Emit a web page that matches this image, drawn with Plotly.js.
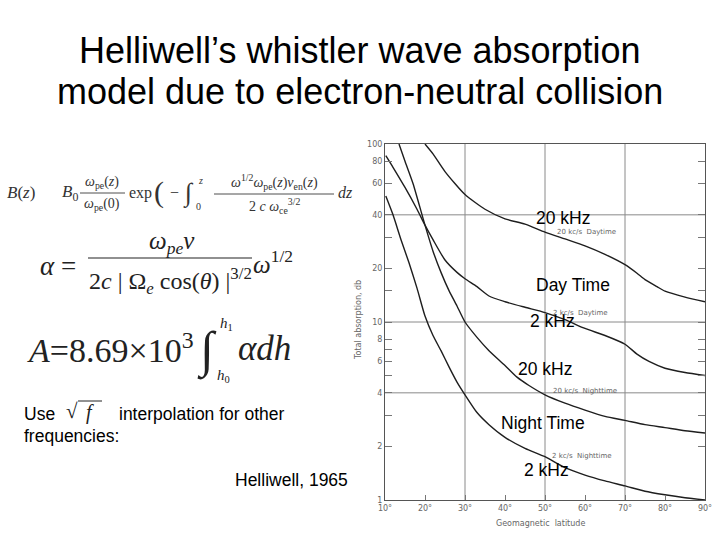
<!DOCTYPE html>
<html>
<head>
<meta charset="utf-8">
<script src="https://cdn.plot.ly/plotly-3.0.1.min.js"></script>
<style>html,body{margin:0;padding:0;background:#fff;}#chart{width:720px;height:540px;}</style>
</head>
<body>
<div id="chart"></div>
<script>
// ---- data (geomagnetic latitude in degrees, total absorption in dB) ----
const lat20Day = [20, 22, 25, 30, 35, 40, 45, 50, 55, 60, 65, 70, 73, 75, 78, 80, 85, 90];
const abs20Day = [100, 88, 70, 52, 43, 38, 35.5, 32, 29.3, 26.8, 24, 21, 18.8, 17.3, 15.8, 14.9, 13.8, 13];

const lat2Day = [10.2, 12, 15, 18, 20, 22, 25, 28, 30, 33, 36, 40, 45, 50, 55, 60, 65, 70, 73, 76, 80, 85, 90];
const abs2Day = [86, 74, 57, 43, 35, 29, 22.3, 19, 17.5, 15.8, 14, 13, 12.1, 11.3, 10.3, 9.2, 8.4, 7.5, 6.6, 6, 5.5, 5.2, 5.0];

const lat20Night = [13.5, 15, 17, 20, 22, 24, 26, 28, 30, 33, 36, 40, 43, 46, 50, 55, 60, 65, 70, 75, 80, 85, 90];
const abs20Night = [100, 80, 60, 35, 25, 19, 15, 12.3, 10, 8.2, 6.9, 5.7, 4.9, 4.4, 3.9, 3.5, 3.2, 2.95, 2.8, 2.65, 2.55, 2.45, 2.38];

const lat2Night = [10.2, 12, 14, 16, 18, 20, 22, 24, 26, 28, 30, 33, 36, 40, 45, 50, 55, 60, 65, 70, 75, 80, 85, 90];
const abs2Night = [51, 40, 29, 21.5, 15.5, 10.8, 8.4, 6.9, 5.6, 4.6, 3.9, 3.1, 2.65, 2.25, 1.95, 1.75, 1.52, 1.38, 1.28, 1.2, 1.12, 1.07, 1.03, 1.0];

const xTickVals = [10, 20, 30, 40, 50, 60, 70, 80, 90];
const xTickText = ['10°', '20°', '30°', '40°', '50°', '60°', '70°', '80°', '90°'];
const yTickVals = [1, 2, 3, 4, 5, 6, 7, 8, 10, 15, 20, 30, 40, 60, 80, 100];
const yTickText = ['1', '2', '', '4', '', '6', '', '8', '10', '', '20', '', '40', '60', '80', '100'];
const xGrid = [30, 50, 70];
const yGrid = [4, 10, 40];

const seriesNames = ['20 kc/s Daytime', '2 kc/s Daytime', '20 kc/s Nighttime', '2 kc/s Nighttime'];

// ---- geometry helpers (plot area in pixels) ----
const L = 385, R = 705, T = 144, B = 500;
const px = x => (x - L) / (R - L);
const py = y => (B - y) / (B - T);

const lineStyle = {color: '#1e1e1e', width: 1.4, shape: 'spline', smoothing: 0.6};
const traces = [
  [lat20Day, abs20Day], [lat2Day, abs2Day], [lat20Night, abs20Night], [lat2Night, abs2Night]
].map((d, i) => ({
  x: d[0], y: d[1], type: 'scatter', mode: 'lines', name: seriesNames[i],
  line: lineStyle, hoverinfo: 'skip', cliponaxis: false
}));

const shapes = [];
xGrid.forEach(v => shapes.push({type: 'line', xref: 'x', yref: 'paper', x0: v, x1: v, y0: 0, y1: 1,
  line: {color: '#8a8a8a', width: 1}, layer: 'below'}));
yGrid.forEach(v => shapes.push({type: 'line', xref: 'paper', yref: 'y', x0: 0, x1: 1, y0: v, y1: v,
  line: {color: '#8a8a8a', width: 1}, layer: 'below'}));
// fraction bars / radical bar for the equations (layout decoration)
function hbar(x0, x1, y, w) {
  shapes.push({type: 'line', xref: 'paper', yref: 'paper', x0: px(x0), x1: px(x1), y0: py(y), y1: py(y),
    line: {color: '#222', width: w || 1}});
}
hbar(80, 125, 193, 0.8);
hbar(214, 334, 194, 0.8);
hbar(88, 252, 258, 1.2);
hbar(78, 102, 401, 1);

const annotations = [];
function txt(t, x, y, size, opts) {
  opts = opts || {};
  annotations.push(Object.assign({
    text: t, x: px(x), y: py(y), xref: 'paper', yref: 'paper', showarrow: false,
    xanchor: 'center', yanchor: 'middle',
    font: {family: 'Liberation Sans, Arial, sans-serif', size: size, color: '#000'}
  }, opts));
}
const serif = (size, color) => ({family: 'Liberation Serif, Times New Roman, serif', size: size, color: color || '#222'});
const sans = (size, color) => ({family: 'Liberation Sans, Arial, sans-serif', size: size, color: color || '#000'});

// Title
txt('Helliwell’s whistler wave absorption', 360, 51, 36, {font: sans(36)});
txt('model due to electron-neutral collision', 360, 91, 36, {font: sans(36)});

// Equation 1
txt('<i>B</i>(<i>z</i>)', 21, 193, 16, {font: serif(17, '#333')});
txt('<i>B</i><sub>0</sub>', 70, 193, 16, {font: serif(17, '#333')});
txt('<i>ω</i><sub>pe</sub>(<i>z</i>)', 102, 182, 14, {font: serif(14, '#333')});
txt('<i>ω</i><sub>pe</sub>(0)', 102, 204, 14, {font: serif(14, '#333')});
txt('exp', 140, 193, 16, {font: serif(16, '#333')});
txt('(', 159, 192, 28, {font: serif(30, '#333')});
txt('−', 174, 193, 16, {font: serif(16, '#333')});
txt('∫', 188, 193, 24, {font: serif(26, '#333')});
txt('<i>z</i>', 200, 180, 10, {font: serif(10, '#333')});
txt('0', 198, 206, 10, {font: serif(10, '#333')});
txt('<i>ω</i><sup>1/2</sup><i>ω</i><sub>pe</sub>(<i>z</i>)<i>ν</i><sub>en</sub>(<i>z</i>)', 274, 182, 14, {font: serif(14, '#333')});
txt('2 <i>c ω</i><sub>ce</sub><sup>3/2</sup>', 274, 206, 14, {font: serif(14, '#333')});
txt('<i>dz</i>', 345, 193, 16, {font: serif(16, '#333')});

// Equation 2
txt('<i>α</i> =', 58, 266, 26, {font: serif(27)});
txt('<i>ω</i><sub><i>pe</i></sub><i>ν</i>', 172, 242, 24, {font: serif(25)});
txt('2<i>c</i> | Ω<sub><i>e</i></sub> cos(<i>θ</i>) |<sup>3/2</sup>', 170, 281, 24, {font: serif(24)});
txt('<i>ω</i><sup>1/2</sup>', 273, 262, 24, {font: serif(25)});

// Equation 3
txt('<i>A</i>=8.69×10<sup>3</sup>', 25, 348, 34, {font: serif(34), xanchor: 'left'});
txt('∫', 207, 350, 48, {font: serif(50)});
txt('<i>h</i><sub>1</sub>', 226, 324, 14, {font: serif(15)});
txt('<i>h</i><sub>0</sub>', 223, 376, 14, {font: serif(15)});
txt('<i>αdh</i>', 236, 348, 34, {font: serif(35), xanchor: 'left'});

// Side text
txt('Use', 22, 414, 17.5, {font: sans(17.5), xanchor: 'left'});
txt('√', 72, 411, 20, {font: serif(21)});
txt('<i>f</i>', 90, 412, 20, {font: serif(20)});
txt('interpolation for other', 117, 414, 17.5, {font: sans(17.5), xanchor: 'left'});
txt('frequencies:', 22, 436, 17.5, {font: sans(17.5), xanchor: 'left'});
txt('Helliwell, 1965', 233, 480, 17.5, {font: sans(17.5), xanchor: 'left'});

// Chart overlay labels
txt('20 kHz', 563, 218, 17.5, {font: sans(17.5)});
txt('Day Time', 573, 285, 17.5, {font: sans(17.5)});
txt('2 kHz', 552, 321, 17.5, {font: sans(17.5)});
txt('20 kHz', 545, 369, 17.5, {font: sans(17.5)});
txt('Night Time', 543, 423, 17.5, {font: sans(17.5)});
txt('2 kHz', 546, 470, 17.5, {font: sans(17.5)});

// Small scanned labels
const smallF = {family: 'DejaVu Sans, sans-serif', size: 7, color: '#666'};
txt('20 kc/s  Daytime', 586, 232, 7, {font: smallF});
txt('2 kc/s  Daytime', 580, 313, 7, {font: smallF});
txt('20 kc/s  Nighttime', 585, 391, 7, {font: smallF});
txt('2 kc/s  Nighttime', 582, 456, 7, {font: smallF});

// Axis titles
txt('Total absorption, db', 358, 320, 8, {font: {family: 'DejaVu Sans, sans-serif', size: 8, color: '#666'}, textangle: -90});
txt('Geomagnetic  latitude', 540, 523, 8, {font: {family: 'DejaVu Sans, sans-serif', size: 8, color: '#666'}});

const layout = {
  width: 720, height: 540,
  margin: {l: L, r: 720 - R, t: T, b: 540 - B},
  paper_bgcolor: '#ffffff', plot_bgcolor: '#ffffff',
  showlegend: false,
  xaxis: {
    range: [10, 90], tickmode: 'array', tickvals: xTickVals, ticktext: xTickText,
    showgrid: false, zeroline: false, showline: true, linecolor: '#555', linewidth: 1, mirror: true,
    ticks: 'inside', ticklen: 5, tickcolor: '#777',
    tickfont: {family: 'DejaVu Sans, sans-serif', size: 8, color: '#666'}
  },
  yaxis: {
    type: 'log', range: [0, 2], tickmode: 'array', tickvals: yTickVals, ticktext: yTickText,
    showgrid: false, zeroline: false, showline: true, linecolor: '#555', linewidth: 1, mirror: 'ticks',
    ticks: 'inside', ticklen: 7, tickcolor: '#777',
    tickfont: {family: 'DejaVu Sans, sans-serif', size: 8, color: '#666'}
  },
  shapes: shapes,
  annotations: annotations
};

Plotly.newPlot('chart', traces, layout, {staticPlot: true, displayModeBar: false});
</script>
</body>
</html>
